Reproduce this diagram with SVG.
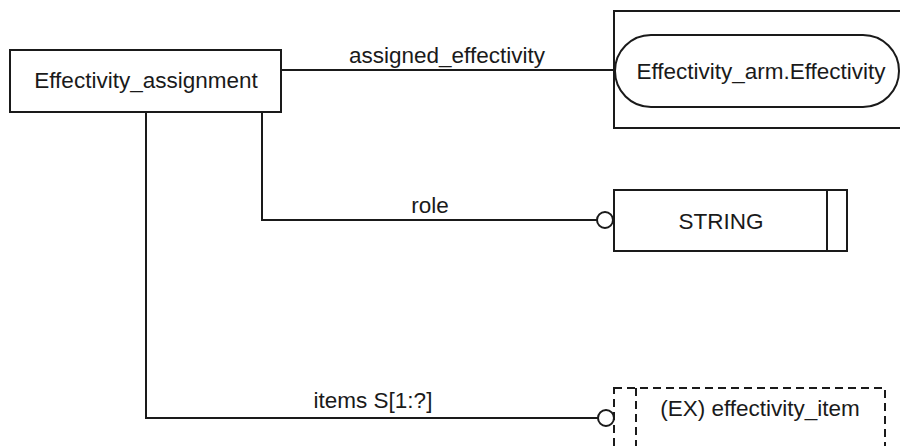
<svg xmlns="http://www.w3.org/2000/svg" width="900" height="446" viewBox="0 0 900 446">
<style>
.b{fill:#fff;stroke:#1a1a1a;stroke-width:2}
.d{fill:none;stroke:#1a1a1a;stroke-width:2;stroke-dasharray:8,5}
.l{fill:none;stroke:#1a1a1a;stroke-width:2}
.t{font-family:"Liberation Sans",Arial,sans-serif;font-size:22.5px;fill:#1a1a1a;text-anchor:middle}
</style>
<rect width="900" height="446" fill="#fff"/>
<g id="connectors">
<line class="l" x1="281" y1="70" x2="615" y2="70"/>
<polyline class="l" points="262,112 262,220 597,220"/>
<circle class="l" cx="605" cy="220" r="8"/>
<polyline class="l" points="146,112 146,418 598,418"/>
<circle class="l" cx="606" cy="418" r="8"/>
<text class="t" x="447" y="63">assigned_effectivity</text>
<text class="t" x="430" y="213">role</text>
<text class="t" x="373" y="408">items S[1:?]</text>
</g>
<g id="Effectivity_assignment">
<rect class="b" x="10" y="50" width="271" height="62"/>
<text class="t" x="146" y="88">Effectivity_assignment</text>
</g>
<g id="Effectivity_arm.Effectivity">
<rect class="b" x="614" y="11" width="292" height="117"/>
<rect class="b" x="615" y="35" width="284" height="72" rx="36" ry="36"/>
<text class="t" x="761" y="79">Effectivity_arm.Effectivity</text>
</g>
<g id="STRING">
<rect class="b" x="614" y="190" width="233" height="61"/>
<line class="l" x1="827" y1="190" x2="827" y2="251"/>
<text class="t" x="721" y="229">STRING</text>
</g>
<g id="effectivity_item">
<rect class="d" x="614" y="388" width="271" height="70"/>
<line class="d" x1="636" y1="388" x2="636" y2="458"/>
<text class="t" x="760" y="416">(EX) effectivity_item</text>
</g>
</svg>
